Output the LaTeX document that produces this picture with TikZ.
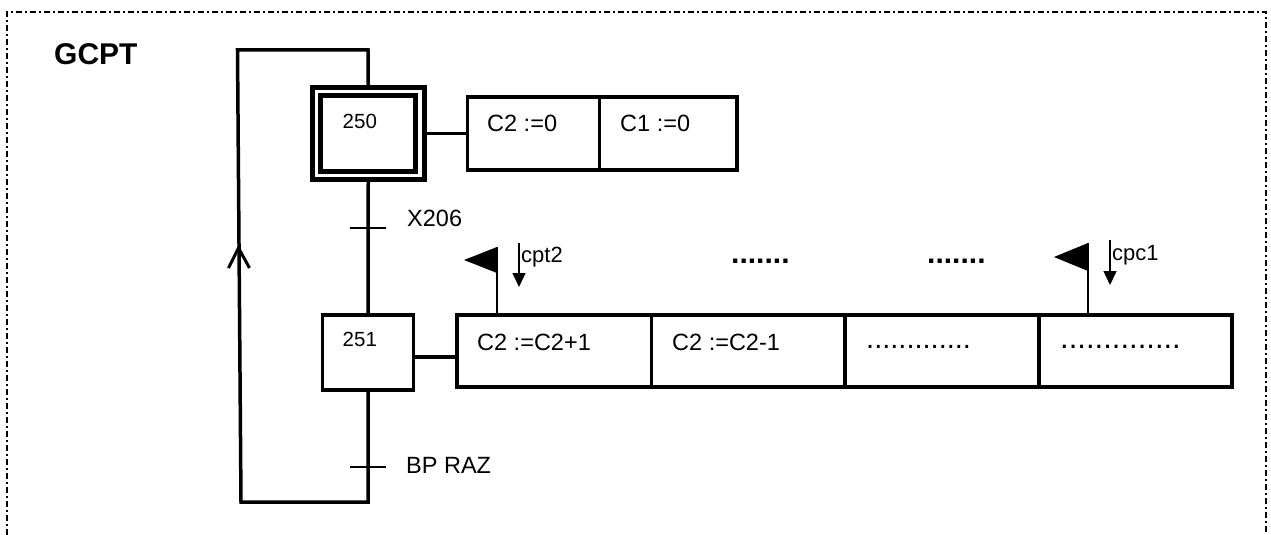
\documentclass[tikz,border=0pt]{standalone}
\usepackage{fontspec}
\setmainfont{Liberation Sans}
\usetikzlibrary{arrows.meta}
\begin{document}
\begin{tikzpicture}[x=1pt,y=-1pt,
  box/.style={draw,line width=3.5pt,inner sep=0pt,minimum height=73pt},
  wire/.style={line width=3.5pt},
  bar/.style={line width=2pt},
  pole/.style={line width=2pt},
  sig/.style={line width=1.5pt,-{Triangle[length=14pt,width=13pt]}},
  txt/.style={inner sep=0pt,anchor=base west,font=\fontsize{23.5}{27}\selectfont},
  small/.style={txt,font=\fontsize{20.5}{24}\selectfont},
  flagtxt/.style={txt,font=\fontsize{22}{26}\selectfont},
  dots/.style={txt,font=\fontsize{29}{32}\selectfont},
  bdots/.style={txt,font=\bfseries\fontsize{30}{32}\selectfont}]
\useasboundingbox (0,0) rectangle (1271,535);
% frame
\draw[line width=2pt,dash pattern=on 6pt off 3pt on 2pt off 3pt]
  (7,535) -- (7,12) -- (1266,12) -- (1266,535);
\node[txt,font=\bfseries\fontsize{30}{34}\selectfont] (title) at (54,64) {GCPT};
% steps
\node[box,line width=5pt,minimum width=112.5pt,minimum height=92pt] (s250) at (368.25,133.5) {};
\node[box,line width=5pt,minimum width=95pt,minimum height=75.5pt] (s250i) at (368,133.25) {};
\node[small] (t250) at (342.5,128) {250};
\node[box,minimum width=91pt,minimum height=75pt] (s251) at (368,352.5) {};
\node[small] (t251) at (342.5,346) {251};
% actions of 250
\node[box,minimum width=132pt] (a1) at (533.5,133.5) {};
\node[box,minimum width=137.5pt] (a2) at (668.25,133.5) {};
\node[txt] (ta1) at (487,131) {C2 :=0};
\node[txt] (ta2) at (620,131) {C1 :=0};
\draw[wire] (s250.east) -- (a1.west);
% actions of 251
\node[box,minimum width=194.5pt,minimum height=72pt] (b1) at (554.25,351) {};
\node[box,minimum width=193.5pt,minimum height=72pt] (b2) at (748.25,351) {};
\node[box,minimum width=194pt,minimum height=72pt] (b3) at (942,351) {};
\node[box,minimum width=193pt,minimum height=72pt] (b4) at (1135.5,351) {};
\node[txt] (tb1) at (477,350) {C2 :=C2+1};
\node[txt] (tb2) at (672,350) {C2 :=C2-1};
\node[dots] (tb3) at (866,348.5) {.............};
\node[txt,font=\fontsize{31}{34}\selectfont] (tb4) at (1060,348.5) {..............};
\coordinate (l2) at (0,357);
\draw[wire] (s251.east |- l2) -- (b1.west |- l2);
% link between steps
\draw[wire] (s250.south) -- (s251.north);
\coordinate (tr1) at (368,228);
\draw[bar] ([xshift=-18pt]tr1) -- ([xshift=18pt]tr1);
\node[txt] (x206) at (407,226) {X206};
% loop
\coordinate (br) at (368,502);
\coordinate (bl) at (241,502);
\coordinate (tl) at (237.5,50);
\coordinate (tr) at (368,50);
\draw[wire,line join=miter] (s251.south) -- (br) -- (bl) -- (tl) -- (tr) -- (s250.north);
\coordinate (up) at (238.5,248);
\draw[line width=3pt,line join=miter] ([shift={(-10,20)}]up) -- (up) -- ([shift={(11,20)}]up);
\coordinate (tr2) at (368,467);
\draw[bar] ([xshift=-18pt]tr2) -- ([xshift=18pt]tr2);
\node[txt] (bpraz) at (406,473) {BP RAZ};
% flag cpt2
\coordinate (f1) at (497,247);
\draw[pole] (f1) -- (f1 |- b1.north);
\fill (f1) -- ([shift={(-33,13)}]f1) -- ([shift={(0,26)}]f1) -- cycle;
\coordinate (s1) at (519,243);
\draw[sig] (s1) -- ([yshift=-44pt]s1);
\node[flagtxt] (cpt2) at (521,262) {cpt2};
% flag cpc1
\coordinate (f2) at (1088,243);
\draw[pole] (f2) -- (f2 |- b4.north);
\fill (f2) -- ([shift={(-34,14)}]f2) -- ([shift={(0,28)}]f2) -- cycle;
\coordinate (s2) at (1110,240);
\draw[sig] (s2) -- ([yshift=-45pt]s2);
\node[flagtxt] (cpc1) at (1112,260) {cpc1};
% dots
\node[bdots] (d1) at (731,263) {.......};
\node[bdots] (d2) at (927,263) {.......};
\end{tikzpicture}
\end{document}
